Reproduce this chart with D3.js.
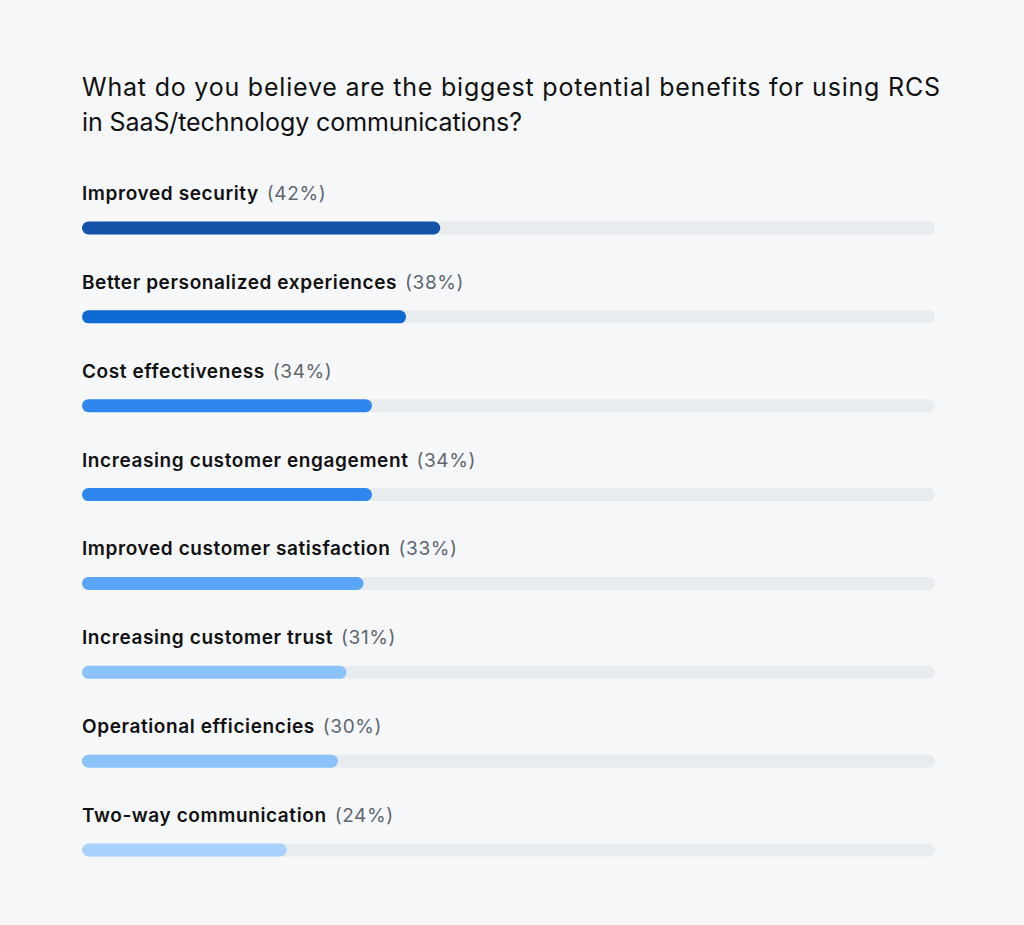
<!DOCTYPE html>
<html>
<head>
<meta charset="utf-8">
<script src="https://cdn.jsdelivr.net/npm/d3@7"></script>
<style>
  body { margin: 0; background: #f6f7f9; }
  svg { display: block; }
</style>
</head>
<body>
<div id="chart"></div>
<script>
// chart data
var categories = [
  "Improved security",
  "Better personalized experiences",
  "Cost effectiveness",
  "Increasing customer engagement",
  "Improved customer satisfaction",
  "Increasing customer trust",
  "Operational efficiencies",
  "Two-way communication"
];
var values = [42, 38, 34, 34, 33, 31, 30, 24];
var barColors = ["#1553a8", "#0f69d3", "#2e86ee", "#2e86ee", "#5aa5f5", "#8bc2fa", "#8bc2fa", "#a8d1fb"];
var titleLines = [
  "What do you believe are the biggest potential benefits for using RCS",
  "in SaaS/technology communications?"
];

var svgWidth = 1024;
var svgHeight = 925;

var svg = d3.select("#chart")
  .append("svg")
  .attr("width", svgWidth)
  .attr("height", svgHeight);

svg.append("rect")
  .attr("width", svgWidth)
  .attr("height", svgHeight)
  .attr("fill", "#f6f7f9");

// title
svg.append("g")
  .selectAll("text")
  .data(titleLines)
  .enter()
  .append("text")
  .attr("x", 82)
  .attr("y", (d, i) => 96 + i * 35)
  .attr("font-family", "Inter, 'Open Sans', sans-serif")
  .attr("font-size", 25)
  .attr("textLength", (d, i) => i === 0 ? 858 : 440)
  .attr("lengthAdjust", "spacing")
  .attr("fill", "#111")
  .text(d => d);

// scales
var xScale = d3.scaleLinear()
  .domain([0, 100])
  .range([82, 935]);

var yScale = d3.scalePoint()
  .domain(categories)
  .range([228, 850]);

var barH = 13;

var rows = svg.append("g")
  .selectAll("g")
  .data(categories)
  .enter()
  .append("g");

// background track
rows.append("rect")
  .attr("x", xScale(0))
  .attr("y", d => yScale(d) - barH / 2)
  .attr("width", xScale(100) - xScale(0))
  .attr("height", barH)
  .attr("rx", barH / 2)
  .attr("fill", "#e9ecef");

// value bar
rows.append("rect")
  .attr("x", xScale(0))
  .attr("y", d => yScale(d) - barH / 2)
  .attr("width", (d, i) => xScale(values[i]) - xScale(0))
  .attr("height", barH)
  .attr("rx", barH / 2)
  .attr("fill", (d, i) => barColors[i]);

// labels
var label = rows.append("text")
  .attr("x", 82)
  .attr("y", d => yScale(d) - 28)
  .attr("font-family", "Inter, 'Open Sans', sans-serif")
  .attr("font-size", 19)
  .attr("letter-spacing", 0.6);

label.append("tspan")
  .attr("font-weight", 600)
  .attr("fill", "#111")
  .text(d => d);

label.append("tspan")
  .attr("fill", "#5f6670")
  .attr("dx", 8)
  .text((d, i) => "(" + values[i] + "%)");
</script>
</body>
</html>
